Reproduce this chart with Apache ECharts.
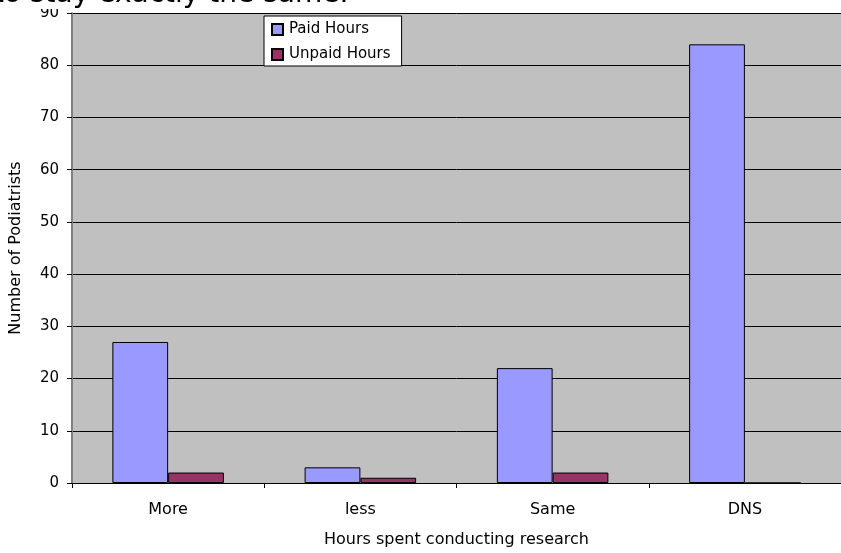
<!DOCTYPE html>
<html>
<head>
<meta charset="utf-8">
<script src="https://cdn.jsdelivr.net/npm/echarts@6/dist/echarts.min.js"></script>
<style>
  html, body { margin: 0; padding: 0; background: #fff; }
  #chart { width: 841px; height: 553px; }
</style>
</head>
<body>
<div id="chart"></div>
<script>
// categories and values
const categories = ['More', 'less', 'Same', 'DNS']
const paidHours = [27, 3, 22, 84]
const unpaidHours = [2, 1, 2, 0]
const yTicks = { min: 0, max: 90, interval: 10 }

const FONT = '"DejaVu Sans", Verdana, sans-serif'

const chart = echarts.init(document.getElementById('chart'))

chart.setOption({
  animation: false,
  textStyle: { fontFamily: FONT, color: '#000' },
  graphic: [
    {
      // white title area, it hides the top of the "90" label
      type: 'rect',
      left: 0,
      top: 0,
      z: 100,
      shape: { width: 69, height: 9 },
      style: { fill: '#fff' }
    },
    {
      // title text, cut off at the top edge of the picture
      type: 'text',
      left: -7,
      top: -19,
      z: 101,
      style: { text: 'to stay exactly the same.', font: '28px ' + FONT, fill: '#000' }
    }
  ],
  legend: {
    orient: 'vertical',
    left: 264,
    top: 16,
    backgroundColor: '#fff',
    borderColor: '#000',
    borderWidth: 1,
    borderRadius: 0,
    padding: [6, 11, 4, 7],
    itemWidth: 11,
    itemHeight: 11,
    itemGap: 10,
    icon: 'rect',
    textStyle: { fontFamily: FONT, fontSize: 15, color: '#000', padding: [0, 0, 0, 1] },
    data: ['Paid Hours', 'Unpaid Hours']
  },
  grid: { left: 71, right: -8, top: 13, bottom: 70, show: true, backgroundColor: '#C0C0C0', borderWidth: 0 },
  xAxis: {
    type: 'category',
    data: categories,
    name: 'Hours spent conducting research',
    nameLocation: 'middle',
    nameGap: 49,
    nameTextStyle: { fontFamily: FONT, fontSize: 16, color: '#000' },
    axisLine: { lineStyle: { color: '#000', width: 1 } },
    axisTick: { show: true, length: 5, lineStyle: { color: '#000' } },
    axisLabel: { fontFamily: FONT, fontSize: 16, color: '#000', margin: 19 }
  },
  yAxis: {
    type: 'value',
    min: yTicks.min,
    max: yTicks.max,
    interval: yTicks.interval,
    name: 'Number of Podiatrists',
    nameLocation: 'middle',
    nameGap: 48,
    nameTextStyle: { fontFamily: FONT, fontSize: 16, color: '#000' },
    axisLine: { show: true, lineStyle: { color: '#808080', width: 2 } },
    axisTick: { show: true, length: 5, lineStyle: { color: '#000' } },
    axisLabel: { fontFamily: FONT, fontSize: 15, color: '#000', margin: 13 },
    splitLine: { show: true, lineStyle: { color: '#000', width: 1 } }
  },
  series: [
    {
      name: 'Paid Hours',
      type: 'bar',
      data: paidHours,
      barGap: '0%',
      barCategoryGap: '42%',
      itemStyle: { color: '#9999FF', borderColor: '#000', borderWidth: 1 }
    },
    {
      name: 'Unpaid Hours',
      type: 'bar',
      data: unpaidHours,
      barGap: '0%',
      barCategoryGap: '42%',
      itemStyle: { color: '#993366', borderColor: '#000', borderWidth: 1 }
    }
  ]
})
</script>
</body>
</html>
